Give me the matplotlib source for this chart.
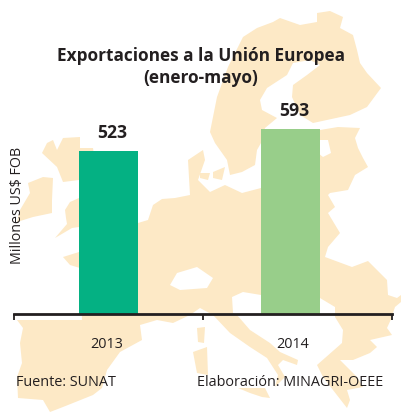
import matplotlib
matplotlib.use("Agg")
import matplotlib.pyplot as plt
from matplotlib.patches import Polygon

years = ["2013", "2014"]
values = [523, 593]
bar_colors = ["#04B183", "#98CE8A"]
title_lines = "Exportaciones a la Unión Europea\n(enero-mayo)"
ylabel = "Millones US$ FOB"
source_left = "Fuente: SUNAT"
source_right = "Elaboración: MINAGRI-OEEE"

MAP = "#FDE9C6"
INK = "#231F20"

# Decorative background map, traced in picture pixels
scandinavia = [(210,132),(217,97),(228,67),(243,37),(257,28),(273,22),(280,18),(300,25),(317,22),(317,13),
               (330,11),(343,17),(340,28),(353,35),(357,50),(360,63),(367,73),(381,88),(367,107),(350,115),
               (313,123),(300,115),(292,97),(293,85),(307,75),(320,65),(310,60),(293,63),(287,75),(267,88),
               (260,100),(262,110),(277,118),(265,128),(261,143),(257,150),(255,165),(242,172),(230,175),
               (227,160),(215,143)]
continent = [(138,223),(148,220),(153,205),(162,199),(175,198),(190,195),(188,160),(203,150),(205,160),
             (198,180),(210,192),(225,185),(242,193),(261,188),(320,188),(320,130),(338,127),(360,128),
             (355,138),(358,148),(363,158),(368,167),(355,175),(348,190),(330,193),(328,195),(335,207),
             (328,213),(340,233),(328,247),(325,257),(352,267),(368,261),(387,280),(388,295),(397,298),
             (401,295),(401,302),(395,307),(393,313),(392,317),(387,328),(392,335),(370,340),(377,347),
             (370,353),(353,360),(340,360),(357,377),(363,387),(347,390),(350,400),(347,408),(333,390),
             (323,377),(317,365),(342,343),(343,330),(335,317),(335,307),(320,298),(300,296),(261,295),
             (243,292),(232,297),(233,313),(237,315),(250,330),(270,343),(280,352),(298,360),(297,365),
             (283,360),(278,365),(285,377),(275,387),(278,375),(267,358),(250,347),(230,333),(213,315),
             (200,308),(190,315),(173,323),(157,320),(140,325),(142,340),(120,352),(107,370),(102,388),
             (93,395),(63,407),(50,412),(43,400),(18,398),(17,377),(22,363),(20,343),(23,328),(17,320),
             (82,320),(80,268),(70,265),(63,257),(79,252)]
sicily = [(238,388),(265,388),(270,398),(262,397),(250,393)]
danish_a = [(200,173),(210,173),(208,180),(200,178)]
danish_b = [(213,172),(225,167),(222,180),(213,178)]
uk = [(42,153),(47,143),(53,140),(57,150),(63,138),(80,137),(80,148),(93,148),(100,200),(100,225),
      (79,227),(72,228),(55,238),(67,224),(66,218),(65,210),(70,202),(79,198),(79,180),(63,182),(57,167)]
ireland = [(28,183),(43,177),(53,178),(52,200),(52,213),(33,217),(17,222),(20,210),(30,193)]
corsica = [(197,328),(205,327),(204,343),(198,342)]
sardinia = [(193,352),(207,347),(208,375),(197,373)]
switzerland = [(170,285),(177,273),(197,267),(213,278),(207,288),(180,290)]
gulf_riga = [(318,140),(328,140),(331,153),(323,157),(318,153)]

fig = plt.figure(figsize=(4.01, 4.19), dpi=100, facecolor="white")
bg = fig.add_axes([0, 0, 1, 1])
bg.set_xlim(0, 401)
bg.set_ylim(419, 0)
bg.axis("off")
for shape in (scandinavia, continent, sicily, danish_a, danish_b, uk, ireland, corsica, sardinia):
    bg.add_patch(Polygon(shape, closed=True, fc=MAP, ec="none"))
for shape in (switzerland, gulf_riga):
    bg.add_patch(Polygon(shape, closed=True, fc="white", ec="none"))

# Chart axes: baseline at y=314 px, x from 14 to 392 px
W, H = 401, 419
ax = fig.add_axes([14/W, (H-314)/H, (392-14)/W, 300/H])
ax.patch.set_alpha(0)
positions = [0, 1]
ax.bar(positions, values, width=0.324, color=bar_colors, zorder=2)
ax.set_xlim(-0.519, 1.558)
ax.set_ylim(0, 300/0.3115)
for s in ("top", "right", "left"):
    ax.spines[s].set_visible(False)
ax.spines["bottom"].set_linewidth(2)
ax.spines["bottom"].set_color(INK)
ax.spines["bottom"].set_zorder(3)
ax.set_yticks([])
ax.set_xticks([-0.519, 0.519, 1.558])
ax.set_xticklabels([])
ax.tick_params(axis="x", length=4, width=1.3, color=INK)
fam = "Open Sans"
for x, v in zip(positions, values):
    ax.annotate(str(v), (x, v), xytext=(3.5, 9), textcoords="offset pixels", ha="center", va="bottom",
                fontsize=12.6, fontweight="bold", color=INK, family=fam)
for label, px in zip(years, (107, 293)):
    ax.text((px-14)/(392-14), -34/300, label, transform=ax.transAxes, ha="center", va="baseline",
            fontsize=10.4, color=INK, family=fam)

fig.text(201/W, 1-47/H, title_lines, ha="center", va="top", fontsize=12.4, fontweight="bold",
         color=INK, family=fam, linespacing=1.3)
fig.text(18/W, 1-263.5/H, ylabel, rotation=90, ha="center", va="bottom", fontsize=10.3, color=INK, family=fam)
fig.text(16/W, 1-386/H, source_left, ha="left", va="baseline", fontsize=10.4, color=INK, family=fam)
fig.text(197/W, 1-386/H, source_right, ha="left", va="baseline", fontsize=10.4, color=INK, family=fam)

fig.savefig("out.png", dpi=100)
